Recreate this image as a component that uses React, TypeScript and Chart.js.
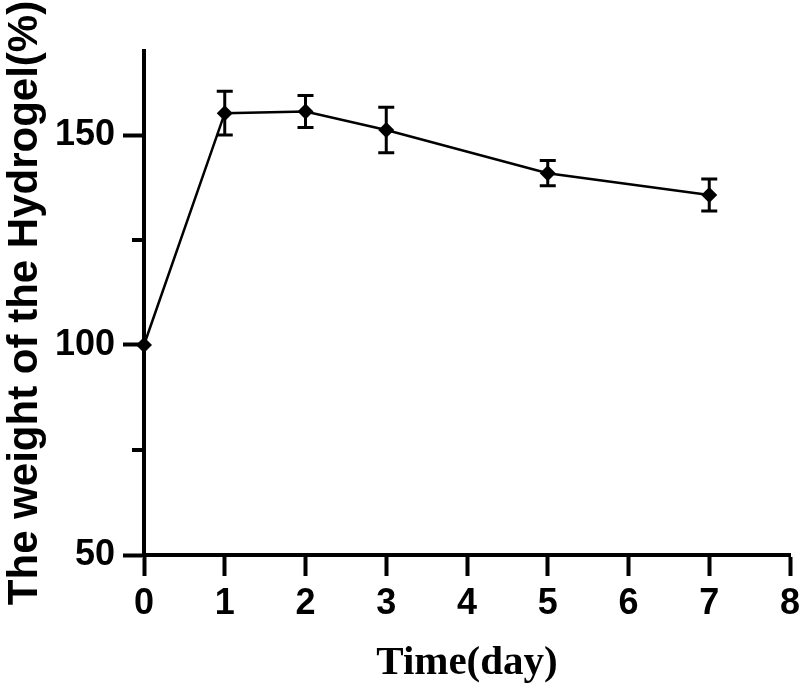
import React, { useEffect, useRef } from "react";
import { Chart, registerables } from "chart.js";

Chart.register(...registerables);

const days = [0, 1, 2, 3, 5, 7];
const weights = [100, 155.2, 155.6, 151.2, 140.9, 135.7];
const errors = [0, 5.2, 3.8, 5.4, 3.0, 3.8];
const xTickValues = [0, 1, 2, 3, 4, 5, 6, 7, 8];
const yMajorTicks = [50, 100, 150];
const yMinorTicks = [75, 125];
const xTitle = "Time(day)";
const yTitle = "The weight of the Hydrogel(%)";

const errorBarPlugin = {
  id: "errorBars",
  beforeDatasetsDraw(chart: any) {
    const { ctx, scales } = chart;
    const xs = scales.x;
    const ys = scales.y;
    ctx.save();
    ctx.strokeStyle = "#000";
    ctx.lineWidth = 3;
    days.forEach((d, i) => {
      const e = errors[i];
      if (!e) return;
      const px = xs.getPixelForValue(d);
      const top = ys.getPixelForValue(weights[i] + e);
      const bot = ys.getPixelForValue(weights[i] - e);
      ctx.beginPath();
      ctx.moveTo(px, top);
      ctx.lineTo(px, bot);
      ctx.moveTo(px - 8, top);
      ctx.lineTo(px + 8, top);
      ctx.moveTo(px - 8, bot);
      ctx.lineTo(px + 8, bot);
      ctx.stroke();
    });
    ctx.restore();
  },
  afterDraw(chart: any) {
    const { ctx, scales } = chart;
    const ys = scales.y;
    ctx.save();
    ctx.strokeStyle = "#000";
    ctx.lineWidth = 4;
    yMinorTicks.forEach((v) => {
      const py = ys.getPixelForValue(v);
      ctx.beginPath();
      ctx.moveTo(ys.right - 12, py);
      ctx.lineTo(ys.right, py);
      ctx.stroke();
    });
    ctx.restore();
  },
};

export default function App() {
  const ref = useRef<HTMLCanvasElement | null>(null);
  useEffect(() => {
    if (!ref.current) return;
    const chart = new Chart(ref.current, {
      type: "line",
      data: {
        datasets: [
          {
            data: days.map((d, i) => ({ x: d, y: weights[i] })),
            borderColor: "#000",
            backgroundColor: "#000",
            borderWidth: 2.5,
            pointStyle: "rectRot",
            pointRadius: 8,
            pointBorderWidth: 0,
            pointBackgroundColor: "#000",
            tension: 0,
            clip: false,
          },
        ],
      },
      options: {
        animation: false,
        responsive: true,
        maintainAspectRatio: false,
        layout: { padding: { top: 51, right: 0, left: 0, bottom: 0 } },
        plugins: { legend: { display: false }, tooltip: { enabled: false } },
        scales: {
          x: {
            type: "linear",
            min: 0,
            max: 8,
            afterBuildTicks: (scale: any) => {
              scale.ticks = xTickValues.map((v) => ({ value: v }));
            },
            afterFit: (scale: any) => {
              scale.height = 135;
              scale.paddingRight = 10;
            },
            grid: {
              drawOnChartArea: false,
              drawTicks: true,
              tickLength: 21,
              tickWidth: 4,
              tickColor: "#000",
            },
            border: { display: true, color: "#000", width: 4 },
            ticks: {
              color: "#000",
              padding: 6,
              maxRotation: 0,
              autoSkip: false,
              font: { family: "Liberation Sans", weight: "bold", size: 36 },
            },
            title: {
              display: true,
              text: xTitle,
              color: "#000",
              padding: { top: 0, bottom: 2 },
              font: { family: "Liberation Serif", weight: "bold", size: 41 },
            },
          },
          y: {
            type: "linear",
            min: 50,
            max: 170,
            afterBuildTicks: (scale: any) => {
              scale.ticks = [...yMajorTicks, ...yMinorTicks]
                .sort((a, b) => a - b)
                .map((v) => ({ value: v }));
            },
            afterFit: (scale: any) => {
              scale.width = 144;
            },
            grid: {
              drawOnChartArea: false,
              drawTicks: true,
              tickLength: 21,
              tickWidth: 4,
              tickColor: (c: any) =>
                yMinorTicks.includes(c.tick?.value) ? "rgba(0,0,0,0)" : "#000",
            },
            border: { display: true, color: "#000", width: 4 },
            ticks: {
              color: "#000",
              padding: 8,
              autoSkip: false,
              callback: (v: any) => (yMajorTicks.includes(Number(v)) ? String(v) : ""),
              font: { family: "Liberation Sans", weight: "bold", size: 36 },
            },
            title: {
              display: true,
              text: yTitle,
              color: "#000",
              padding: { top: 0, bottom: 0 },
              font: { family: "Liberation Sans", weight: "bold", size: 42 },
            },
          },
        },
      },
      plugins: [errorBarPlugin],
    });
    return () => chart.destroy();
  }, []);
  return (
    <div style={{ position: "fixed", left: 0, top: 0, width: 800, height: 690, background: "#fff" }}>
      <canvas ref={ref} />
    </div>
  );
}
